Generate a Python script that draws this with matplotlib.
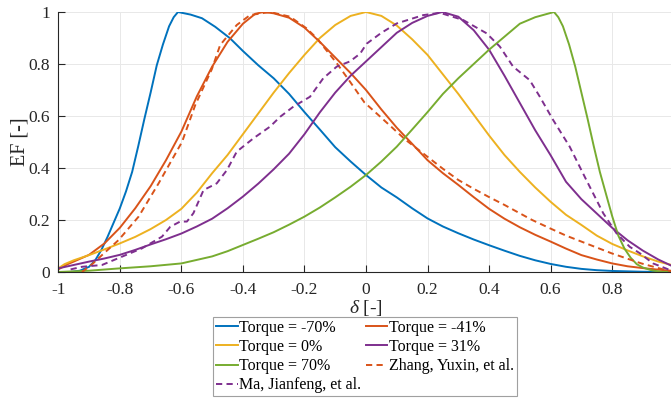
import matplotlib
matplotlib.use("Agg")
import matplotlib.pyplot as plt

plt.rcParams["font.family"] = ["Liberation Serif", "DejaVu Serif"]
plt.rcParams["mathtext.fontset"] = "custom"
plt.rcParams["mathtext.rm"] = "Liberation Serif"
plt.rcParams["mathtext.it"] = "Liberation Serif:italic"
plt.rcParams["axes.unicode_minus"] = False

# Efficiency factor EF versus normalised position delta
d_m70 = [-1.0, -0.96, -0.93, -0.90, -0.88, -0.86, -0.84, -0.82, -0.80, -0.78, -0.76, -0.74,
         -0.72, -0.70, -0.68, -0.66, -0.64, -0.625, -0.611, -0.57, -0.533, -0.49, -0.442,
         -0.40, -0.35, -0.30, -0.25, -0.20, -0.15, -0.10, -0.05, 0.0, 0.05, 0.10, 0.15,
         0.20, 0.25, 0.30, 0.35, 0.40, 0.45, 0.50, 0.55, 0.60, 0.65, 0.70, 0.75, 0.80,
         0.90, 1.0]
ef_m70 = [0.0, 0.0, 0.005, 0.02, 0.045, 0.085, 0.135, 0.19, 0.245, 0.31, 0.385, 0.485,
          0.59, 0.69, 0.795, 0.875, 0.945, 0.98, 1.0, 0.99, 0.976, 0.943, 0.899,
          0.85, 0.795, 0.745, 0.685, 0.615, 0.548, 0.48, 0.425, 0.373, 0.325, 0.287, 0.245,
          0.206, 0.175, 0.149, 0.125, 0.103, 0.082, 0.062, 0.045, 0.031, 0.02, 0.012, 0.007,
          0.004, 0.001, 0.0]

d_m41 = [-1.0, -0.97, -0.95, -0.90, -0.85, -0.80, -0.75, -0.70, -0.65, -0.60, -0.55, -0.50,
         -0.45, -0.40, -0.36, -0.333, -0.30, -0.25, -0.20, -0.15, -0.10, -0.05, 0.0, 0.05,
         0.10, 0.15, 0.20, 0.25, 0.30, 0.35, 0.40, 0.45, 0.50, 0.55, 0.60, 0.65, 0.70, 0.75,
         0.80, 0.85, 0.90, 0.95, 1.0]
ef_m41 = [0.01, 0.03, 0.04, 0.066, 0.11, 0.17, 0.245, 0.33, 0.43, 0.54, 0.675, 0.79,
          0.885, 0.955, 0.993, 1.0, 0.995, 0.978, 0.94, 0.885, 0.825, 0.765, 0.7, 0.625,
          0.555, 0.493, 0.43, 0.38, 0.335, 0.288, 0.243, 0.205, 0.172, 0.143, 0.117, 0.09,
          0.065, 0.048, 0.033, 0.022, 0.015, 0.009, 0.004]

d_0 = [-1.0, -0.98, -0.95, -0.90, -0.85, -0.80, -0.75, -0.70, -0.65, -0.60, -0.55, -0.50,
       -0.45, -0.40, -0.35, -0.30, -0.25, -0.20, -0.15, -0.10, -0.05, 0.0, 0.05, 0.10, 0.15,
       0.20, 0.25, 0.30, 0.35, 0.40, 0.45, 0.50, 0.55, 0.60, 0.65, 0.70, 0.75, 0.80, 0.85,
       0.90, 0.95, 1.0]
ef_0 = [0.014, 0.03, 0.045, 0.065, 0.087, 0.11, 0.135, 0.165, 0.2, 0.243, 0.305, 0.38,
        0.45, 0.53, 0.61, 0.69, 0.765, 0.835, 0.9, 0.95, 0.985, 1.0, 0.985, 0.948, 0.895,
        0.835, 0.76, 0.685, 0.605, 0.525, 0.45, 0.385, 0.325, 0.27, 0.22, 0.181, 0.14,
        0.108, 0.083, 0.06, 0.04, 0.025]

d_p31 = [-1.0, -0.95, -0.90, -0.85, -0.80, -0.75, -0.70, -0.65, -0.60, -0.55, -0.50, -0.45,
         -0.40, -0.35, -0.30, -0.25, -0.20, -0.15, -0.10, -0.05, 0.0, 0.05, 0.10, 0.15, 0.20,
         0.248, 0.30, 0.35, 0.40, 0.45, 0.50, 0.55, 0.60, 0.65, 0.70, 0.75, 0.80, 0.85,
         0.90, 0.95, 1.0]
ef_p31 = [0.014, 0.027, 0.04, 0.052, 0.066, 0.085, 0.106, 0.126, 0.148, 0.175, 0.205, 0.245,
          0.29, 0.34, 0.395, 0.455, 0.53, 0.614, 0.69, 0.755, 0.81, 0.865, 0.92, 0.958, 0.985,
          1.0, 0.982, 0.93, 0.855, 0.755, 0.65, 0.545, 0.449, 0.347, 0.28, 0.225, 0.17, 0.122,
          0.082, 0.048, 0.02]

d_p70 = [-1.0, -0.90, -0.80, -0.70, -0.60, -0.50, -0.45, -0.40, -0.35, -0.30, -0.25, -0.20,
         -0.15, -0.10, -0.05, 0.0, 0.05, 0.10, 0.15, 0.20, 0.25, 0.30, 0.35, 0.40, 0.45,
         0.50, 0.55, 0.611, 0.625, 0.64, 0.66, 0.68, 0.70, 0.72, 0.74, 0.76, 0.78, 0.80,
         0.82, 0.84, 0.86, 0.88, 0.90, 0.93, 0.96, 1.0]
ef_p70 = [0.0, 0.005, 0.014, 0.022, 0.033, 0.06, 0.08, 0.104, 0.128, 0.153, 0.182, 0.213,
          0.248, 0.287, 0.328, 0.373, 0.425, 0.482, 0.548, 0.615, 0.685, 0.745, 0.8, 0.855,
          0.905, 0.955, 0.98, 1.0, 0.98, 0.945, 0.875, 0.79, 0.69, 0.59, 0.485, 0.385, 0.3,
          0.215, 0.14, 0.09, 0.055, 0.03, 0.017, 0.006, 0.001, 0.0]

d_zhang = [-0.923, -0.89, -0.858, -0.804, -0.739, -0.674, -0.631, -0.598, -0.555, -0.501,
           -0.474, -0.42, -0.377, -0.312, -0.247, -0.193, -0.16, -0.095, -0.052, -0.005,
           0.04, 0.127, 0.199, 0.25, 0.3, 0.35, 0.397, 0.45, 0.484, 0.54, 0.598, 0.65, 0.7,
           0.75, 0.798, 0.85, 0.895, 0.95, 1.0]
ef_zhang = [0.0, 0.03, 0.065, 0.123, 0.213, 0.341, 0.431, 0.5, 0.642, 0.78,
            0.873, 0.95, 0.988, 1.0, 0.982, 0.937, 0.899, 0.803, 0.732, 0.652,
            0.604, 0.51, 0.444, 0.397, 0.354, 0.32, 0.29, 0.258, 0.236, 0.2, 0.168, 0.14,
            0.117, 0.094, 0.072, 0.051, 0.033, 0.015, 0.0]

d_ma = [-0.96, -0.923, -0.858, -0.793, -0.728, -0.663, -0.636, -0.604, -0.582, -0.561,
        -0.528, -0.485, -0.452, -0.42, -0.366, -0.312, -0.279, -0.236, -0.182, -0.139,
        -0.095, -0.052, -0.019, 0.002, 0.05, 0.1, 0.186, 0.24, 0.316, 0.392, 0.435, 0.478,
        0.532, 0.565, 0.608, 0.662, 0.716, 0.771, 0.814, 0.857, 0.89, 0.933, 0.987]
ef_ma = [0.01, 0.02, 0.027, 0.059, 0.091, 0.136, 0.174, 0.194, 0.194, 0.226,
         0.315, 0.341, 0.392, 0.463, 0.514, 0.559, 0.597, 0.636, 0.674, 0.745,
         0.79, 0.81, 0.84, 0.878, 0.92, 0.956, 0.988, 0.997, 0.969, 0.918, 0.867, 0.79,
         0.738, 0.674, 0.585, 0.482, 0.354, 0.226, 0.149, 0.097, 0.072, 0.033, 0.008]

labels = ["Torque = -70%", "Torque = -41%", "Torque = 0%", "Torque = 31%",
          "Torque = 70%", "Zhang, Yuxin, et al.", "Ma, Jianfeng, et al."]
x_ticks = [-1, -0.8, -0.6, -0.4, -0.2, 0, 0.2, 0.4, 0.6, 0.8, 1]
x_ticklabels = ["-1", "-0.8", "-0.6", "-0.4", "-0.2", "0", "0.2", "0.4", "0.6", "0.8", ""]
y_ticks = [0, 0.2, 0.4, 0.6, 0.8, 1]
y_ticklabels = ["0", "0.2", "0.4", "0.6", "0.8", "1"]

colors = ["#0072BD", "#D95319", "#EDB120", "#7E2F8E", "#77AC30", "#D95319", "#7E2F8E"]

W, H = 671, 401
fig = plt.figure(figsize=(W / 100, H / 100), dpi=100)
ax = fig.add_axes([58.3 / W, (H - 272) / H, 615.4 / W, 260 / H])

series = [(d_m70, ef_m70), (d_m41, ef_m41), (d_0, ef_0), (d_p31, ef_p31),
          (d_p70, ef_p70), (d_zhang, ef_zhang), (d_ma, ef_ma)]
handles = []
for i, ((xd, yd), lab, c) in enumerate(zip(series, labels, colors)):
    if i < 5:
        h, = ax.plot(xd, yd, color=c, lw=1.4, label=lab)
    else:
        h, = ax.plot(xd, yd, color=c, lw=1.4, label=lab, dashes=(3.2, 2.2))
    handles.append(h)

ax.set_xlim(-1, 1)
ax.set_ylim(0, 1)
ax.set_xticks(x_ticks)
ax.set_xticklabels(x_ticklabels)
ax.set_yticks(y_ticks)
ax.set_yticklabels(y_ticklabels)
ax.tick_params(direction="in", length=5, width=0.8, labelsize=12.5, colors="#262626")
ax.tick_params(axis="x", pad=7)
ax.tick_params(axis="y", pad=6)
ax.grid(True, color="#e8e8e8", lw=0.7)
ax.set_axisbelow(True)
for s in ("top", "right"):
    ax.spines[s].set_visible(False)
for s in ("left", "bottom"):
    ax.spines[s].set_color("#262626")
    ax.spines[s].set_linewidth(0.8)

ax.set_xlabel(r"$\delta$ [-]", fontsize=14, color="#262626", labelpad=0)
ax.set_ylabel("EF [-]", fontsize=14.5, color="#262626", labelpad=-1)

order = [0, 2, 4, 6, 1, 3, 5]
leg = ax.legend([handles[i] for i in order], [labels[i] for i in order],
                ncol=2, loc="upper center", bbox_to_anchor=(365 / W, 1 - 317 / H),
                bbox_transform=fig.transFigure, borderaxespad=0, fontsize=11.5,
                frameon=True, fancybox=False, edgecolor="#a0a0a0", framealpha=1,
                handlelength=1.35, handletextpad=0.1, columnspacing=0.3,
                labelspacing=0.2, borderpad=0.18)
leg.get_frame().set_linewidth(0.8)

fig.savefig("out.png", dpi=100)
